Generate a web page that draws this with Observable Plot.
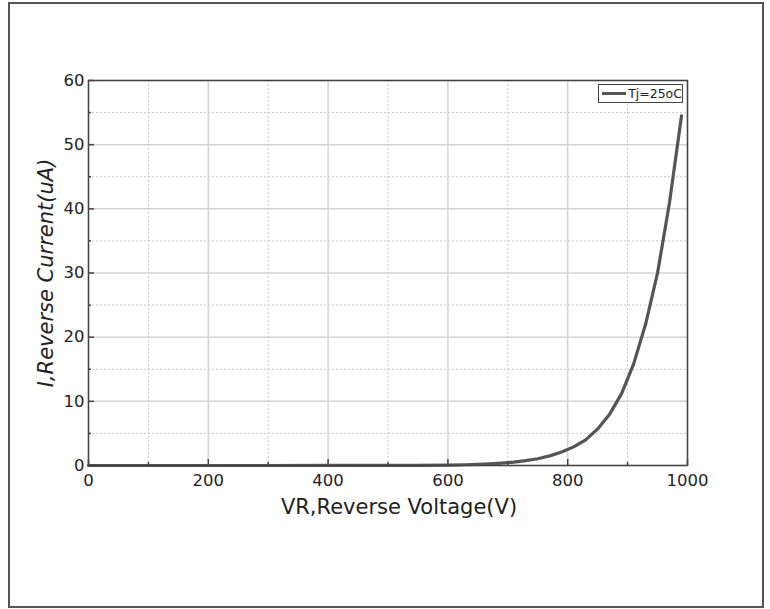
<!DOCTYPE html>
<html>
<head>
<meta charset="utf-8">
<script src="https://cdn.jsdelivr.net/npm/d3@7"></script>
<script src="https://cdn.jsdelivr.net/npm/@observablehq/plot@0.6"></script>
<style>
  html, body { margin: 0; padding: 0; background: #fff; }
  #wrap { position: relative; width: 770px; height: 609px; overflow: hidden; }
  #border { position: absolute; left: 8px; top: 2px; width: 752px; height: 602px; border: 2px solid #555; pointer-events: none; }
  #legend { position: absolute; left: 598px; top: 84px; width: 83px; height: 17px; border: 1px solid #444; background: #fff;
            font-family: "DejaVu Sans", sans-serif; font-size: 12.5px; color: #222; display: flex; align-items: center; white-space: nowrap; }
  #legend .sw { display: inline-block; width: 26px; height: 0; border-top: 3px solid #555; margin: 0 2px 0 3px; }
</style>
</head>
<body>
<div id="wrap">
  <div id="chart"></div>
  <div id="border"></div>
  <div id="legend"><span class="sw"></span><span id="legtext"></span></div>
</div>
<script>
// Data
const voltage = [0, 100, 200, 300, 400, 500, 550, 600, 630, 650, 670, 690, 710, 730, 750, 770, 790, 810, 830, 850, 870, 890, 910, 930, 950, 970, 990];
const current = [0, 0, 0.001, 0.002, 0.005, 0.015, 0.03, 0.07, 0.12, 0.18, 0.26, 0.37, 0.52, 0.75, 1.05, 1.5, 2.1, 2.9, 4.0, 5.7, 8.0, 11.2, 15.8, 22, 30, 41, 54.5];
const seriesName = "Tj=25oC";
const xMajorTicks = [0, 200, 400, 600, 800, 1000];
const xMinorTicks = [100, 300, 500, 700, 900];
const yMajorTicks = [0, 10, 20, 30, 40, 50, 60];
const yMinorTicks = [5, 15, 25, 35, 45, 55];
const xTitle = "VR,Reverse Voltage(V)";
const yTitle = "I,Reverse Current(uA)";

const data = voltage.map((v, i) => ({v, c: current[i]}));
document.getElementById("legtext").textContent = seriesName;

const font = "DejaVu Sans, sans-serif";
const chart = Plot.plot({
  width: 770,
  height: 609,
  marginLeft: 88,
  marginRight: 83,
  marginTop: 80,
  marginBottom: 144,
  style: {fontFamily: font, fontSize: "16px", color: "#222", background: "transparent"},
  x: {domain: [0, 1000]},
  y: {domain: [0, 60]},
  marks: [
    Plot.gridX({ticks: xMinorTicks, stroke: "#c8c8c8", strokeOpacity: 1, strokeDasharray: "2,2"}),
    Plot.gridY({ticks: yMinorTicks, stroke: "#c8c8c8", strokeOpacity: 1, strokeDasharray: "2,2"}),
    Plot.gridX({ticks: xMajorTicks, stroke: "#d4d4d4", strokeOpacity: 1, strokeWidth: 1.5}),
    Plot.gridY({ticks: yMajorTicks, stroke: "#d4d4d4", strokeOpacity: 1, strokeWidth: 1.5}),
    Plot.line(data, {x: "v", y: "c", stroke: "#555", strokeWidth: 3.2}),
    Plot.axisX({ticks: xMajorTicks, tickSize: -6, tickFormat: () => "", label: null, stroke: "#444", strokeWidth: 1.5}),
    Plot.axisX({ticks: xMinorTicks, tickSize: -3, tickFormat: () => "", label: null, stroke: "#444", strokeWidth: 1.5}),
    Plot.axisY({ticks: yMajorTicks, tickSize: -6, tickFormat: () => "", label: null, stroke: "#444", strokeWidth: 1.5}),
    Plot.axisY({ticks: yMinorTicks, tickSize: -3, tickFormat: () => "", label: null, stroke: "#444", strokeWidth: 1.5}),
    Plot.axisX({ticks: xMajorTicks, tickSize: 0, tickPadding: 9, label: null, fontSize: 16.5, tickFormat: d => String(d)}),
    Plot.axisY({ticks: yMajorTicks, tickSize: 0, tickPadding: 4, label: null, fontSize: 16.5, tickFormat: d => String(d)}),
    Plot.frame({stroke: "#444", strokeWidth: 1.5}),
    Plot.text([xTitle], {frameAnchor: "bottom", textAnchor: "middle", lineAnchor: "middle", dy: 42, dx: 11, fontSize: 21, fill: "#222"}),
    Plot.text([yTitle], {frameAnchor: "left", textAnchor: "middle", lineAnchor: "middle", rotate: -90, dx: -42, fontSize: 21, fontStyle: "italic", fill: "#222"})
  ]
});
document.getElementById("chart").appendChild(chart);
</script>
</body>
</html>
